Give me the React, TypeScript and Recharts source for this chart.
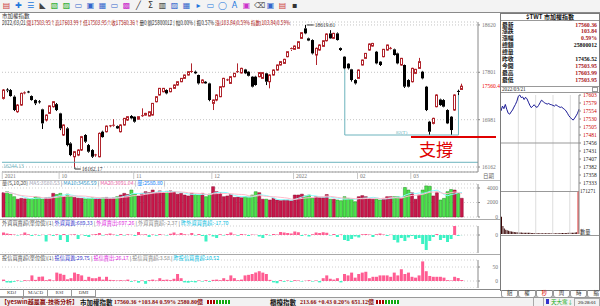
import React from 'react'
import {
  Bar, BarChart, CartesianGrid, Cell, ComposedChart, Line, LineChart,
  ReferenceDot, ReferenceLine, XAxis, YAxis,
} from 'recharts'

const NUM = '"Liberation Serif", "Noto Sans CJK TC", serif'
const CJK = '"Noto Sans CJK TC", "Noto Sans CJK SC", sans-serif'

// daily candles 2021/09/08 .. 2022/03/21, [open, high, low, close]
const candles: number[][] = [
  [17350, 17510, 17330, 17494], [17494, 17525, 17455, 17480], [17494, 17510, 17380, 17390], [17379, 17400, 17130, 17148],
  [17119, 17250, 17100, 17234], [17234, 17450, 17220, 17436], [17440, 17470, 17420, 17445], [17460, 17480, 17440, 17455],
  [17390, 17400, 17310, 17321], [17321, 17330, 17234, 17263], [17290, 17320, 17260, 17285], [17160, 17170, 16820, 16917],
  [16975, 17070, 16950, 17061], [17090, 17230, 17080, 17220], [17206, 17300, 17190, 17292], [17250, 17270, 17130, 17148],
  [17090, 17100, 16800, 16831], [16716, 16900, 16700, 16889], [16831, 16850, 16520, 16542], [16571, 16590, 16350, 16369],
  [16340, 16440, 16162.17, 16427], [16369, 16470, 16350, 16456], [16456, 16700, 16440, 16687], [16716, 16730, 16580, 16600],
  [16542, 16560, 16410, 16427], [16456, 16470, 16320, 16340], [16369, 16390, 16340, 16372], [16340, 16760, 16330, 16744],
  [16773, 16790, 16670, 16680], [16773, 16880, 16760, 16870], [16870, 16890, 16850, 16875], [16880, 16990, 16860, 16885],
  [16870, 16880, 16820, 16830], [16773, 16900, 16760, 16889], [16889, 17010, 16880, 17004], [16975, 17040, 16960, 17033],
  [17045, 17060, 16990, 17004], [17033, 17040, 16930, 16946], [16990, 17040, 16980, 17033], [17045, 17177, 17030, 17050],
  [17061, 17100, 17050, 17090], [17045, 17125, 17040, 17119], [17061, 17270, 17050, 17263], [17292, 17390, 17280, 17379],
  [17408, 17530, 17400, 17523], [17465, 17530, 17455, 17523], [17494, 17505, 17420, 17436], [17465, 17530, 17455, 17523],
  [17523, 17590, 17515, 17581], [17581, 17645, 17570, 17638], [17638, 17700, 17630, 17696], [17696, 17760, 17690, 17754],
  [17754, 17820, 17745, 17811], [17805, 17955, 17790, 17815], [17811, 17830, 17770, 17783], [17754, 17760, 17590, 17609],
  [17620, 17680, 17610, 17667], [17638, 17650, 17600, 17609], [17609, 17620, 17300, 17321], [17263, 17330, 17148, 17321],
  [17321, 17420, 17300, 17408], [17379, 17560, 17370, 17552], [17552, 17705, 17540, 17696], [17667, 17690, 17650, 17670],
  [17609, 17735, 17600, 17725], [17725, 17790, 17715, 17783], [17805, 17955, 17790, 17812], [17790, 17880, 17780, 17869],
  [17850, 17860, 17770, 17783], [17811, 17820, 17730, 17740], [17725, 17735, 17540, 17552], [17725, 17740, 17570, 17581],
  [17725, 17805, 17715, 17795], [17696, 17805, 17690, 17795], [17783, 17790, 17580, 17638], [17638, 17765, 17523, 17754],
  [17754, 17850, 17745, 17840], [17840, 17935, 17830, 17927], [17927, 17995, 17920, 17985], [17955, 18035, 17950, 18025],
  [18071, 18165, 18060, 18157], [18190, 18230, 18170, 18210], [18198, 18265, 18190, 18255], [18215, 18340, 18205, 18330],
  [18388, 18495, 18380, 18486], [18561, 18619.61, 18460, 18474], [18388, 18400, 18340, 18350], [18359, 18370, 18110, 18128],
  [18100, 18230, 17927, 18215], [18186, 18285, 18175, 18273], [18250, 18355, 18240, 18347], [18347, 18475, 18335, 18463],
  [18474, 18530, 18380, 18388], [18388, 18485, 18375, 18474], [18474, 18490, 18350, 18359], [18220, 18230, 18170, 18186],
  [18071, 18080, 17852, 17869], [17950, 17960, 17850, 17870], [17852, 17860, 17640, 17667], [17667, 17680, 17590, 17609],
  [17696, 17850, 17690, 17840], [17927, 18020, 17920, 18013], [18042, 18135, 18030, 18128], [18186, 18300, 18175, 18290],
  [18255, 18310, 18245, 18300], [18157, 18170, 17940, 17955], [17985, 17995, 17910, 17927], [18071, 18205, 18060, 18198],
  [18186, 18280, 18175, 18273], [18210, 18240, 18195, 18215], [18198, 18210, 18090, 18100], [18128, 18140, 17940, 17955],
  [17927, 18050, 17915, 18042], [17927, 17935, 17530, 17552], [17667, 17680, 17540, 17552], [17638, 17880, 17625, 17869],
  [17783, 17860, 17770, 17852], [17869, 18050, 17860, 17985], [17811, 17825, 17680, 17696], [17552, 17565, 17130, 17148],
  [16946, 16960, 16716, 16773], [16917, 17015, 16900, 17004], [17206, 17420, 17195, 17408], [17330, 17345, 17220, 17234],
  [17321, 17335, 17195, 17206], [17148, 17160, 16905, 16917], [17033, 17045, 16716, 16802], [17148, 17420, 17135, 17408],
  [17470, 17500, 17400, 17456.52], [17503.95, 17603.99, 17503.95, 17560.36],
]

// 成交金額 (億)
const volume = [
  3350, 3490, 3150, 2800, 2450, 2570, 2500, 2520, 2540, 2800,
  2700, 2450, 2650, 2700, 3260, 3100, 3260, 2800, 3150, 2800,
  2700, 2600, 2570, 2500, 2570, 2640, 2570, 2570, 2650, 2700,
  2570, 2640, 2800, 3030, 3260, 3100, 3720, 3150, 2900, 3260,
  3490, 3350, 3720, 3350, 3600, 3350, 3540, 3600, 3490, 3150,
  3260, 3030, 2900, 3260, 3150, 3030, 3260, 2800, 3150, 4180,
  3490, 3350, 2800, 2900, 3100, 2700, 2750, 2650, 2800, 2750,
  3030, 3490, 3350, 2450, 2450, 2340, 2570, 2340, 2250, 2340,
  2340, 2250, 3030, 3030, 3150, 2900, 3030, 2570, 2800, 2660,
  2660, 3100, 2450, 2450, 2340, 2250, 2800, 2570, 2450, 2110,
  2800, 2950, 2800, 2570, 2450, 2450, 2340, 2570, 2800, 2800,
  2800, 2800, 2570, 4070, 3720, 3350, 2450, 3030, 3720, 4290,
  4250, 2900, 3350, 2340, 2570, 3490, 3790, 3720, 3260, 2580.8,
]

// 外資買賣超 (億)
const foreign = [
  50, 30, 20, 10, -10, 10, 50, 15, -20, 10,
  -15, 5, -130, 10, -20, 15, -100, 20, -140, 10,
  15, -80, 5, -20, -40, 10, 20, 40, -10, 15,
  30, 10, -15, 20, -10, 15, 5, -20, 60, 10,
  15, -40, 10, -15, 20, 5, -10, 25, 50, 10,
  40, 15, 5, 40, -10, 20, -20, -130, 10, -30,
  -60, 15, -10, 20, 50, 10, -15, 20, 10, -20,
  10, 5, -30, -60, 15, -10, 20, 10, 60, 50,
  40, 30, 70, 55, -20, 10, -30, 15, 50, 40,
  55, 45, -10, 20, -40, 10, -100, -120, -80, -30,
  -50, 15, 20, 10, -40, 15, 30, 10, -20, 5,
  -100, -150, -60, -120, -50, -20, -80, -60, -180, -300,
  -120, -40, 20, -100, -60, -140, -80, 180, -17.7, -2.37,
]

// 投信買賣超 (億)
const trust = [
  5, -5, -6, -3, 2, -2, 3, 2, 20, 4,
  15, 16, 3, 6, 2, 30, 26, 22, 6, 10,
  30, 25, 20, 4, 15, 10, 10, 15, 5, 15,
  4, 3, 2, 3, 2, 5, -3, 2, -6, 2,
  -10, 3, 5, 2, 10, 4, 5, 3, 8, 25,
  10, -5, -6, -3, -5, 2, -2, 3, -3, 4,
  5, 3, 10, 4, 20, 10, 3, 5, 20, 22,
  25, 30, 35, 30, 25, 4, -5, -8, 3, -3,
  2, -3, 3, 2, -2, 1, 3, -2, 2, -5,
  10, 20, 8, 5, 10, -5, 25, 20, 30, 12,
  25, 30, 33, 10, 15, 15, 20, 20, 20, 15,
  30, 20, 42, 25, 30, 15, 12, 20, 70, 35,
  18, 15, 15, 15, 12, 3, 2, 15, 10.52, 3.58,
]

const monthTicks = [0, 16, 37, 59, 82, 100, 115]
const monthLabels = ['2021', '10', '11', '12', '2022', '02', '03']
const priceTicks = [16162, 16981, 17801, 18620]
const EMPTY_SLOTS = 4

// 3/21 intraday, 5 minute closes 09:00..13:30
const intradayPrice = [
  17555, 17570, 17562, 17575, 17560, 17548, 17545, 17552, 17558, 17567,
  17575, 17585, 17600, 17603.99, 17596, 17598, 17590, 17597, 17592, 17582,
  17572, 17565, 17570, 17574, 17568, 17566, 17572, 17580, 17588, 17585,
  17580, 17578, 17576, 17578, 17575, 17574, 17572, 17570, 17574, 17571,
  17568, 17566, 17567, 17563, 17560, 17555, 17548, 17540, 17535, 17530,
  17527, 17533, 17540, 17548, 17560.36,
]
const intradayVol = [
  120, 55, 38, 30, 26, 22, 19, 17, 15, 14, 13, 12, 11, 10, 10, 9, 9, 9, 8, 8,
  8, 7, 7, 7, 7, 7, 6, 6, 6, 6, 6, 6, 6, 6, 6, 6, 6, 6, 6, 6,
  6, 6, 7, 7, 7, 7, 7, 8, 8, 8, 9, 9, 10, 12, 300,
]
const intradayTicks = [17603.99, 17579.41, 17554.83, 17530.25, 17505.67, 17481.1, 17456.52, 17431.94, 17407.36, 17382.78, 17358.2, 17333.62]
const hourMarks = [12, 24, 36, 48]
const PREV_CLOSE = 17456.52

const infoLabels = ['最新', '漲跌', '漲幅', '總額', '總量', '昨收', '今開', '最高', '最低']
const infoValues = ['17560.36', '103.84', '0.59%', '25800012', '', '17456.52', '17503.95', '17603.99', '17503.95']
const infoRed = [true, true, true, false, false, false, true, true, true]

function avg(arr: number[], i: number, n: number) {
  const s = arr.slice(Math.max(0, i - n + 1), i + 1)
  return s.reduce((a, b) => a + b, 0) / s.length
}

const rows = Array.from({ length: candles.length + EMPTY_SLOTS }, (_, i) => {
  const k = candles[i]
  if (!k) return { i } as any
  const [o, h, l, c] = k
  return {
    i, o, h, l, c, range: [l, h], up: c >= o,
    vol: volume[i], ma5: avg(volume, i, 5), ma10: avg(volume, i, 10),
    fx: foreign[i], tr: trust[i],
  }
})

function Candle(props: any) {
  const { x, y, width, height, payload } = props
  if (!payload || payload.o == null) return null
  const { o, h, l, c } = payload
  const top = Math.min(y, y + height)
  const k = h > l ? Math.abs(height) / (h - l) : 0
  const at = (v: number) => top + (h - v) * k
  const cx = Math.floor(x + width / 2) + 0.5
  const bTop = at(Math.max(o, c))
  const bBot = at(Math.min(o, c))
  const up = c >= o
  const col = up ? '#b0242c' : '#000'
  return (
    <g>
      <line x1={cx} x2={cx} y1={at(h)} y2={bTop} stroke={col} />
      <line x1={cx} x2={cx} y1={bBot} y2={at(l)} stroke={col} />
      {bBot - bTop < 1.2
        ? <line x1={cx - 1.5} x2={cx + 1.5} y1={bTop} y2={bTop} stroke={col} />
        : up
          ? <rect x={cx - 1} y={bTop} width={2} height={bBot - bTop} fill="#fff" stroke={col} />
          : <rect x={cx - 1.5} y={bTop} width={3} height={bBot - bTop} fill="#000" />}
    </g>
  )
}

function RightTick({ x, y, payload, end, color, fmt }: any) {
  const v = payload.value
  return (
    <text x={end ? x + 17 : x + 1} y={y + 2} fontSize={5.5} fontFamily={NUM} textAnchor={end ? 'end' : 'start'}
      fill={color ? color(v) : '#777'}>{fmt ? fmt(v) : v}</text>
  )
}

function DateTick({ x, y, payload }: any) {
  const label = monthLabels[monthTicks.indexOf(payload.value)]
  return (
    <g>
      <line x1={x - 1.5} x2={x - 1.5} y1={y} y2={y + 7} stroke="#c8c8c8" />
      <text x={x + 1} y={y + 5.5} fontSize={5.5} fill="#777" fontFamily={NUM}>{label}</text>
    </g>
  )
}

const teal = '#6cb3bd'
const abs = (left: number, top: number, extra: any = {}) => ({ position: 'absolute' as const, left, top, ...extra })

function Span({ c, children }: any) {
  return <span style={{ color: c }}>{children}</span>
}

function PriceChart() {
  return (
    <ComposedChart width={500} height={180} data={rows} margin={{ top: 22, right: 0, bottom: 0, left: 2 }}>
      <CartesianGrid vertical={false} stroke="#c4c4c4" strokeDasharray="1 2" />
      <XAxis dataKey="i" ticks={monthTicks} interval={0} tick={<DateTick />} tickLine={false} tickSize={0} tickMargin={0}
        height={8} axisLine={{ stroke: '#999' }} />
      <YAxis orientation="right" width={22} domain={[16076, 18671]} ticks={priceTicks} interval={0} allowDataOverflow
        tick={<RightTick />} tickSize={2} tickMargin={1} axisLine={{ stroke: '#888' }} tickLine={{ stroke: '#888' }} />
      <ReferenceLine y={16244.13} stroke={teal}
        label={(p: any) => <text x={p.viewBox.x + 1} y={p.viewBox.y + 6} fontSize={5.5} fill={teal} fontFamily={NUM}>16244.13</text>} />
      <ReferenceLine segment={[{ x: 96, y: 17852 }, { x: 96, y: 16716 }]} stroke={teal} />
      <ReferenceLine segment={[{ x: 96, y: 16716 }, { x: 128, y: 16716 }]} stroke={teal} />
      <ReferenceLine segment={[{ x: 128, y: 16716 }, { x: 128, y: 17408 }]} stroke={teal} />
      <ReferenceLine y={17560.36} stroke="none"
        label={(p: any) => <text x={p.viewBox.x + p.viewBox.width + 4} y={p.viewBox.y + 2} fontSize={5.5} fill="#e00" fontFamily={NUM}>17560.4</text>} />
      <Bar dataKey="range" barSize={3} shape={(p: any) => <Candle {...p} />} isAnimationActive={false} />
      <ReferenceDot x={112} y={16716} r={0} stroke="none"
        label={(p: any) => <text x={p.viewBox.x} y={p.viewBox.y - 1} fontSize={5} fill={teal} textAnchor="middle" fontFamily={NUM}>82(T)</text>} />
      <ReferenceDot x={85} y={18619.61} r={0} stroke="none"
        label={(p: any) => (
          <g>
            <line x1={p.viewBox.x + 1} x2={p.viewBox.x + 8} y1={p.viewBox.y} y2={p.viewBox.y} stroke="#333" />
            <text x={p.viewBox.x + 9} y={p.viewBox.y + 2} fontSize={5.5} fill="#333" fontFamily={NUM}>18619.61</text>
          </g>
        )} />
      <ReferenceDot x={20} y={16162.17} r={0} stroke="none"
        label={(p: any) => (
          <g>
            <polyline points={`${p.viewBox.x},${p.viewBox.y} ${p.viewBox.x},${p.viewBox.y + 2} ${p.viewBox.x + 6},${p.viewBox.y + 2}`} fill="none" stroke="#333" />
            <text x={p.viewBox.x + 7} y={p.viewBox.y + 4} fontSize={5.5} fill="#333" fontFamily={NUM}>16162.17</text>
          </g>
        )} />
    </ComposedChart>
  )
}

function VolumeChart() {
  return (
    <ComposedChart width={500} height={39} data={rows} margin={{ top: 4, right: 0, bottom: 2, left: 2 }}>
      <CartesianGrid vertical={false} stroke="#d0d0d0" strokeDasharray="1 2" />
      <XAxis dataKey="i" hide />
      <YAxis orientation="right" width={22} domain={[0, 4550]} ticks={[0, 2000, 4000]} interval={0}
        tick={<RightTick end />} tickSize={2} tickMargin={1} axisLine={{ stroke: '#888' }} tickLine={{ stroke: '#888' }} />
      <Bar dataKey="vol" barSize={3} isAnimationActive={false}>
        {rows.map((r) => (
          <Cell key={r.i} fill={r.up ? '#c8174a' : '#4ee24e'} stroke={r.up ? '#8e0d33' : '#1e8c1e'} strokeWidth={0.5} />
        ))}
      </Bar>
      <Line dataKey="ma5" stroke="#8ff" dot={false} strokeWidth={1} isAnimationActive={false} />
      <Line dataKey="ma10" stroke="#fbc" dot={false} strokeWidth={1} isAnimationActive={false} />
    </ComposedChart>
  )
}

function FlowChart({ dataKey, height, top, domain, ticks }: any) {
  return (
    <BarChart width={500} height={height} data={rows} margin={{ top, right: 0, bottom: 0, left: 2 }}>
      <CartesianGrid vertical={false} stroke="#d0d0d0" strokeDasharray="1 2" />
      <XAxis dataKey="i" hide />
      <YAxis orientation="right" width={22} domain={domain} ticks={ticks} interval={0} allowDataOverflow
        tick={<RightTick end />} tickSize={2} tickMargin={1} axisLine={{ stroke: '#888' }} tickLine={{ stroke: '#888' }} />
      <Bar dataKey={dataKey} barSize={3} isAnimationActive={false}>
        {rows.map((r) => <Cell key={r.i} fill={(r[dataKey] ?? 0) >= 0 ? '#ff5c92' : '#3cf2c4'} />)}
      </Bar>
    </BarChart>
  )
}

function IntradayCharts() {
  const pts = intradayPrice.map((p, t) => ({ t, p, v: intradayVol[t] }))
  return (
    <>
      <div style={abs(501, 92)}>
        <LineChart width={99} height={100} data={pts} margin={{ top: 3, right: 0, bottom: 1, left: 0 }}>
          <XAxis dataKey="t" type="number" domain={[0, 54]} hide />
          <YAxis orientation="right" width={21} domain={[17309.05, 17603.99]} ticks={intradayTicks} interval={0}
            tick={<RightTick color={(v: number) => (v > PREV_CLOSE + 1 ? '#c00' : '#222')} fmt={(v: number) => Math.floor(v)} />}
            tickSize={2} tickMargin={1} axisLine={{ stroke: '#888' }} tickLine={{ stroke: '#888' }} />
          {hourMarks.map((h) => <ReferenceLine key={h} x={h} stroke="#ddd" />)}
          <ReferenceLine y={PREV_CLOSE} stroke="#999" />
          <Line dataKey="p" stroke="#1b1b96" dot={false} strokeWidth={1} isAnimationActive={false} />
        </LineChart>
      </div>
      <div style={abs(501, 191)}>
        <BarChart width={99} height={43} data={pts} margin={{ top: 0, right: 0, bottom: 0, left: 0 }} barCategoryGap={0}>
          <XAxis dataKey="t" hide />
          <YAxis orientation="right" width={21} domain={[0, 300]} ticks={[]} allowDataOverflow axisLine={{ stroke: '#888' }} />
          {hourMarks.map((h) => <ReferenceLine key={h} x={h} stroke="#ddd" />)}
          <Bar dataKey="v" isAnimationActive={false}>
            {pts.map((d) => <Cell key={d.t} fill={d.t === pts.length - 1 ? '#e01010' : '#3a0606'} />)}
          </Bar>
        </BarChart>
      </div>
    </>
  )
}

const toolbarIcons = ['▤', '✚', '☰', '◣', '▧', '▨', '▭', '▣', '▦', '▭', '▩', '╱', 'Σ', '▥', '▨', '▦', '▸', '▭', '◯', 'A', '▣', '⌫', '▣', '▤', '▪']
const toolbarColors = ['#c33', '#27d', '#27d', '#444', '#2a2', '#2a2', '#36c', '#36c', '#36c', '#36c', '#c3c', '#333', '#333', '#333', '#36c', '#36c', '#27d', '#27d', '#27d', '#27d', '#c3c', '#555', '#36c', '#c33', '#333']

export default function App() {
  const line = (top: number, left = 0, width = 500, color = '#aaa') => (
    <div style={abs(left, top, { width, height: 1, background: color })} />
  )
  return (
    <div style={{ position: 'fixed', left: 0, top: 0, width: 600, height: 306, background: '#fff', overflow: 'hidden', fontFamily: CJK }}>
      <div style={abs(0, 0)}><PriceChart /></div>
      <div style={abs(0, 180)}><VolumeChart /></div>
      <div style={abs(0, 219)}><FlowChart dataKey="fx" height={34} top={7} domain={[-360, 180]} ticks={[0]} /></div>
      <div style={abs(0, 254)}><FlowChart dataKey="tr" height={34} top={6} domain={[-25, 75]} ticks={[0, 50]} /></div>

      {/* toolbar */}
      <div style={abs(0, 0, { width: 600, height: 12, background: '#f3f3f3', borderBottom: '1px solid #8a8a8a', display: 'flex', gap: 3, paddingLeft: 2, alignItems: 'center', fontSize: 8, lineHeight: '10px', fontFamily: '"DejaVu Sans", sans-serif' })}>
        {toolbarIcons.map((g, k) => <span key={k} style={{ color: toolbarColors[k], width: 9, textAlign: 'center' }}>{g}</span>)}
      </div>
      <div style={abs(2, 13, { fontSize: 5.5, lineHeight: '6px', color: '#333' })}>市加權指數</div>
      <div style={abs(2, 19.5, { fontSize: 5.5, lineHeight: '6px', whiteSpace: 'nowrap', color: '#b01818', transform: 'scaleX(0.83)', transformOrigin: '0 0' })}>
        <Span c="#333">2022/03/21 </Span>開17503.95↑高17603.99↑低17503.95↑收17560.36↑<Span c="#333">量0 額25800012 | 幅0.00% | 振0.57% </Span>漲(103.84)0.59% 指數(103.84)0.59%
      </div>

      {/* annotation */}
      <div style={abs(411, 136, { width: 85, height: 2, background: '#e00000' })} />
      <div style={abs(419, 139, { fontSize: 17, lineHeight: '20px', color: '#e00000', fontFamily: CJK })}>支撐</div>

      {/* date strip */}
      {line(179.5, 0, 500, '#bbb')}
      <div style={abs(483, 173, { fontSize: 5.5, lineHeight: '6px', color: '#666' })}>日期</div>
      {line(218.5)}
      {line(254)}
      {line(288.5, 0, 500, '#888')}

      <div style={abs(2, 180, { fontSize: 5.2, lineHeight: '6px', whiteSpace: 'nowrap', color: '#555' })}>
        量(5,10,20) <Span c="#aab">MA5:3580.53</Span> | <Span c="#39c">MA10:3456.59</Span> | <Span c="#e6a">MA20:3091.04</Span> | <Span c="#18f">量:2580.80</Span> |
      </div>
      <div style={abs(2, 219.5, { fontSize: 5.2, lineHeight: '6px', whiteSpace: 'nowrap', color: '#555' })}>
        外資買賣超(單位億)(1) <Span c="#33c">外資買進:689.33</Span> | <Span c="#d2d">外資賣出:697.26</Span> | <Span c="#888">外資買賣超:-2.37</Span> | <Span c="#0bd">昨外資買賣超:-17.70</Span>
      </div>
      <div style={abs(2, 255, { fontSize: 5.2, lineHeight: '6px', whiteSpace: 'nowrap', color: '#555' })}>
        投信買賣超(單位億)(1) <Span c="#33c">投信買進:29.75</Span> | <Span c="#d2d">投信賣出:26.17</Span> | <Span c="#888">投信買賣超:3.58</Span> | <Span c="#0bd">昨投信買賣超:10.52</Span>
      </div>

      {/* indicator tabs */}
      <div style={abs(0, 289, { display: 'flex', fontSize: 5, lineHeight: '7px', color: '#444', fontFamily: NUM })}>
        {['KDJ', 'MACD', 'RSI', 'DMI'].map((t) => (
          <div key={t} style={{ width: 23, height: 7, borderRight: '1px solid #999', borderBottom: '1px solid #999', textAlign: 'center' }}>{t}</div>
        ))}
      </div>

      {/* right panel */}
      <div style={abs(500, 13, { width: 98, height: 276, border: '1px solid #7a7a7a' })} />
      <div style={abs(501, 14, { width: 98, height: 6, borderBottom: '1px solid #999', fontSize: 6, lineHeight: '6px', fontWeight: 700, textAlign: 'center', color: '#111' })}>
        $TWT 市加權指數
      </div>
      {infoLabels.map((lab, k) => (
        <div key={lab} style={abs(502, 21.5 + k * 6.95, { width: 95, height: 6.9, fontSize: 5.8, lineHeight: '6.9px', display: 'flex', justifyContent: 'space-between' })}>
          <span style={{ fontWeight: 700, color: '#111' }}>{lab}</span>
          <span style={{ fontWeight: 700, color: infoRed[k] ? '#a8141c' : '#111', fontFamily: NUM }}>{infoValues[k]}</span>
        </div>
      ))}
      {line(85.5, 501, 98, '#999')}
      <div style={abs(502, 86.5, { fontSize: 5.2, lineHeight: '5px', color: '#222', fontFamily: NUM })}>2022/03/21</div>
      <div style={abs(592, 87, { width: 4, height: 3, border: '1px solid #999' })} />
      {line(91.5, 501, 98, '#999')}
      <IntradayCharts />
      <div style={abs(580, 187.5, { fontSize: 5.2, lineHeight: '6px', color: '#222', fontFamily: NUM })}>171271</div>
      <div style={abs(580, 229, { fontSize: 5.2, lineHeight: '6px', color: '#222' })}>數量</div>
      {line(190.5, 501, 77, '#999')}
      {line(235, 501, 98, '#999')}
      <div style={abs(501, 290, { display: 'flex', fontSize: 5.5, lineHeight: '7px' })}>
        {['組', '權', '秒', '周', '時', '縮'].map((t, k) => (
          <div key={t} style={{ width: 15.3, height: 7, border: '1px solid #999', borderTop: 'none', borderRadius: '0 0 3px 3px', textAlign: 'center', color: k === 2 ? '#d00' : '#333' }}>{t}</div>
        ))}
      </div>

      {/* status bar */}
      <div style={abs(0, 297, { width: 600, height: 9, background: '#f2f2f2', borderTop: '1px solid #999' })} />
      <div style={abs(1, 298, { fontSize: 6, lineHeight: '8px', whiteSpace: 'nowrap', fontWeight: 700, color: '#8a0c0c' })}>【yeswin越是贏-技術分析】</div>
      <div style={abs(80, 298, { fontSize: 6.5, lineHeight: '8px', fontWeight: 700, color: '#111' })}>市加權指數</div>
      <div style={abs(114, 298, { fontSize: 6, lineHeight: '8px', fontWeight: 700, color: '#8a0c0c', fontFamily: NUM, whiteSpace: 'nowrap' })}>17560.36 +103.84 0.59% 2580.80億</div>
      <div style={abs(207, 299.5, { width: 9, height: 4, background: 'repeating-linear-gradient(90deg,#a00 0 2px,#fff 2px 3px)' })} />
      <div style={abs(216, 299.5, { width: 14, height: 4, background: 'repeating-linear-gradient(90deg,#1a1 0 2px,#fff 2px 3px)' })} />
      <div style={abs(270, 298, { fontSize: 6.5, lineHeight: '8px', fontWeight: 700, color: '#111' })}>櫃檯指數</div>
      <div style={abs(300, 298, { fontSize: 6, lineHeight: '8px', fontWeight: 700, color: '#8a0c0c', fontFamily: NUM, whiteSpace: 'nowrap' })}>213.66 +0.43 0.20% 651.12億</div>
      <div style={abs(376, 299.5, { width: 9, height: 4, background: 'repeating-linear-gradient(90deg,#a00 0 2px,#fff 2px 3px)' })} />
      <div style={abs(385, 299.5, { width: 14, height: 4, background: 'repeating-linear-gradient(90deg,#1a1 0 2px,#fff 2px 3px)' })} />
      <div style={abs(533, 298, { width: 1, height: 8, background: '#aaa' })} />
      <div style={abs(543, 298, { width: 1, height: 8, background: '#aaa' })} />
      <div style={abs(546, 299, { width: 3, height: 5, background: '#33c' })} />
      <div style={abs(551, 298, { fontSize: 5.5, lineHeight: '8px', color: '#1a1' })}>天大寒↓</div>
      <div style={abs(574, 298, { width: 24, height: 7, border: '1px solid #aaa', fontSize: 5, lineHeight: '7px', textAlign: 'center', fontFamily: NUM })}>20:28:01</div>
    </div>
  )
}
